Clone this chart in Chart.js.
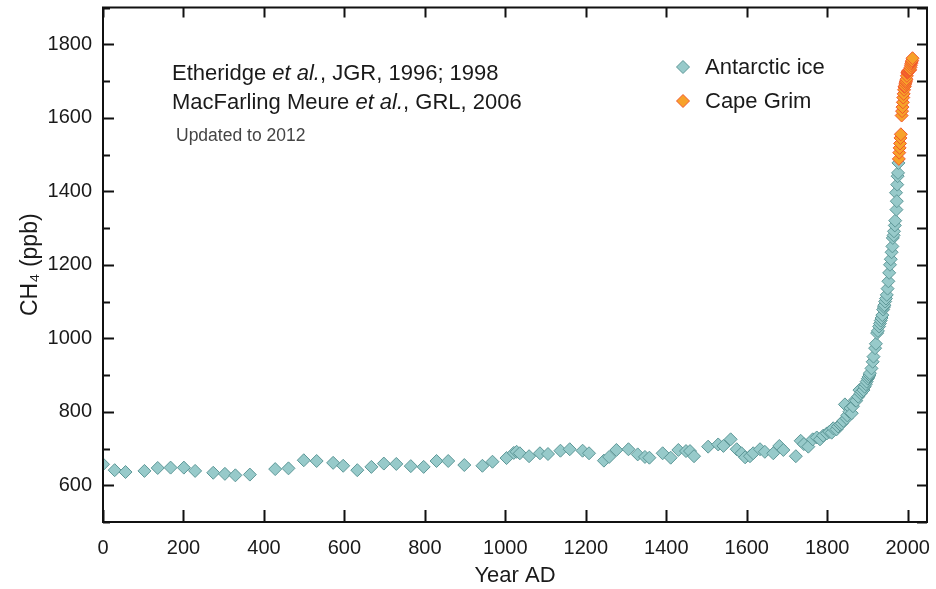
<!DOCTYPE html>
<html>
<head>
<meta charset="utf-8">
<script src="https://cdn.jsdelivr.net/npm/chart.js@4.4.1/dist/chart.umd.min.js"></script>
<style>
  html, body { margin: 0; padding: 0; background: #fff; }
  #wrap { width: 936px; height: 589px; }
</style>
</head>
<body>
<div id="wrap"><canvas id="ch4-chart"></canvas></div>
<script>
'use strict';
// values
const iceYears = [0, 29, 56, 103, 136, 168, 201, 229, 274, 303, 329, 365, 428, 461, 499, 531, 572, 597, 632, 667, 698, 729, 765, 797, 829, 858, 898, 943, 968,
  1003, 1021, 1028, 1036, 1059, 1086, 1106, 1137, 1160, 1192, 1208, 1245, 1258, 1276, 1306, 1329, 1347, 1358, 1391, 1411, 1430, 1449, 1459, 1469,
  1504, 1529, 1542, 1560, 1575, 1587, 1596, 1608, 1616, 1633, 1645, 1666, 1681, 1691, 1722, 1734, 1742, 1753, 1764, 1774, 1782, 1790, 1799, 1805,
  1811, 1815, 1823, 1827, 1832, 1836, 1840, 1844, 1848, 1850, 1855, 1858, 1861, 1864, 1869, 1872, 1877, 1880, 1883, 1886, 1890, 1893, 1896, 1898,
  1901, 1903, 1905, 1906, 1910, 1913, 1915, 1919, 1921, 1924, 1926, 1929, 1931, 1933, 1935, 1937, 1939, 1941, 1942, 1944, 1946, 1948, 1950, 1952,
  1954, 1956, 1958, 1960, 1962, 1963, 1965, 1966, 1968, 1969, 1971, 1972, 1973, 1974, 1975, 1976, 1977];
const iceCH4 = [657, 641, 636, 639, 647, 648, 648, 639, 634, 631, 627, 629, 644, 646, 668, 666, 661, 653, 641, 650, 659, 658, 652, 650, 666, 666, 655, 653, 664,
  674, 688, 691, 687, 679, 687, 685, 694, 698, 694, 687, 667, 677, 696, 698, 684, 677, 675, 687, 675, 696, 693, 693, 679,
  705, 711, 707, 725, 698, 687, 676, 679, 687, 698, 691, 687, 707, 696, 679, 721, 712, 705, 725, 730, 725, 735, 741, 745,
  743, 755, 752, 760, 765, 768, 775, 820, 782, 790, 800, 810, 796, 815, 832, 830, 841, 859, 850, 855, 859, 868, 875, 882,
  890, 895, 900, 905, 918, 936, 950, 973, 985, 1014, 1020, 1032, 1040, 1048, 1055, 1063, 1078, 1085, 1090, 1100, 1108, 1118, 1135, 1155,
  1178, 1200, 1215, 1234, 1250, 1273, 1280, 1291, 1307, 1320, 1396, 1350, 1373, 1418, 1441, 1450, 1477];

const grimYears = [1978, 1979, 1980, 1981, 1982, 1983, 1985, 1986, 1987, 1988, 1989, 1990, 1991, 1992, 1993, 1994, 1995, 1996, 1997, 1998, 1999,
  2000, 2001, 2002, 2003, 2004, 2005, 2006, 2007, 2008, 2009, 2010, 2011, 2012];
const grimCH4 = [1488, 1505, 1518, 1530, 1545, 1555, 1606, 1618, 1629, 1642, 1655, 1665, 1676, 1684, 1686, 1692, 1697, 1700, 1705, 1714, 1722,
  1724, 1726, 1728, 1729, 1729, 1729, 1731, 1737, 1743, 1748, 1752, 1756, 1762];

const xTickVals = [0, 200, 400, 600, 800, 1000, 1200, 1400, 1600, 1800, 2000];
const yTickVals = [600, 800, 1000, 1200, 1400, 1600, 1800];
const yMinorVals = [500, 600, 700, 800, 900, 1000, 1100, 1200, 1300, 1400, 1500, 1600, 1700, 1800, 1900];

const FONT = '"Liberation Sans", Arial, sans-serif';
const INK = '#1a1a1a';
const ICE_FILL = '#97caca', ICE_EDGE = '#5d9797';
const GRIM_FILL = '#f7a22a', GRIM_EDGE = '#f2572c';

function toPoints(xs, ys) {
  return xs.map((v, i) => ({x: v, y: ys[i]}));
}

function diamond(ctx, x, y, r, fill, edge) {
  ctx.beginPath();
  ctx.moveTo(x, y - r); ctx.lineTo(x + r, y); ctx.lineTo(x, y + r); ctx.lineTo(x - r, y);
  ctx.closePath();
  ctx.fillStyle = fill; ctx.fill();
  ctx.strokeStyle = edge; ctx.lineWidth = 1; ctx.stroke();
}

// keep the plot box where the picture has it: no room kept for label overhang
function noOverhang(s) {
  s.paddingTop = 0; s.paddingBottom = 0; s.paddingLeft = 0; s.paddingRight = 0;
}

// frame, inward ticks, notes and legend
const decor = {
  id: 'decor',
  afterDatasetsDraw(chart) {
    const {ctx, chartArea: a, scales: {x, y}} = chart;
    ctx.save();
    ctx.strokeStyle = '#111';
    ctx.lineWidth = 2;
    ctx.strokeRect(a.left, a.top, a.right - a.left, a.bottom - a.top);
    ctx.beginPath();
    yMinorVals.forEach(v => {
      const py = Math.round(y.getPixelForValue(v)) + 0.5;
      const len = (v % 200 === 0) ? 11 : 7;
      ctx.moveTo(a.left, py); ctx.lineTo(a.left + len, py);
      ctx.moveTo(a.right, py); ctx.lineTo(a.right - 10, py);
    });
    xTickVals.forEach(v => {
      const px = Math.round(x.getPixelForValue(v)) + 0.5;
      ctx.moveTo(px, a.bottom); ctx.lineTo(px, a.bottom - 12);
      ctx.moveTo(px, a.top); ctx.lineTo(px, a.top + 10);
    });
    ctx.stroke();

    // reference notes
    ctx.fillStyle = INK;
    ctx.textBaseline = 'alphabetic';
    ctx.textAlign = 'left';
    const line = (parts, x0, y0) => {
      let cx = x0;
      parts.forEach(([txt, it]) => {
        ctx.font = (it ? 'italic ' : '') + '22px ' + FONT;
        ctx.fillText(txt, cx, y0);
        cx += ctx.measureText(txt).width;
      });
    };
    line([['Etheridge ', false], ['et al.', true], [', JGR, 1996; 1998', false]], 172, 80);
    line([['MacFarling Meure ', false], ['et al.', true], [', GRL, 2006', false]], 172, 109);
    ctx.font = '17.5px ' + FONT;
    ctx.fillStyle = '#444';
    ctx.fillText('Updated to 2012', 176, 141);

    // legend
    ctx.textBaseline = 'middle';
    diamond(ctx, 683, 67, 6.5, ICE_FILL, ICE_EDGE);
    diamond(ctx, 683, 101, 6.5, GRIM_FILL, GRIM_EDGE);
    ctx.font = '22px ' + FONT;
    ctx.fillStyle = INK;
    ctx.fillText('Antarctic ice', 705, 68);
    ctx.fillText('Cape Grim', 705, 102);
    ctx.restore();
  }
};

new Chart(document.getElementById('ch4-chart'), {
  type: 'scatter',
  data: {
    datasets: [
      {
        label: 'Cape Grim',
        data: toPoints(grimYears, grimCH4),
        pointStyle: 'rectRot',
        pointRadius: 6.5,
        backgroundColor: GRIM_FILL,
        borderColor: GRIM_EDGE,
        borderWidth: 1,
        order: 0
      },
      {
        label: 'Antarctic ice',
        data: toPoints(iceYears, iceCH4),
        pointStyle: 'rectRot',
        pointRadius: 6.5,
        backgroundColor: ICE_FILL,
        borderColor: ICE_EDGE,
        borderWidth: 1,
        order: 1
      }
    ]
  },
  options: {
    responsive: true,
    maintainAspectRatio: false,
    animation: false,
    layout: {padding: {left: 0, right: 9, top: 7, bottom: 0}},
    plugins: {
      legend: {display: false},
      tooltip: {enabled: false}
    },
    scales: {
      x: {
        type: 'linear',
        min: 0,
        max: 2048,
        grid: {display: false, drawTicks: false},
        border: {display: false},
        afterBuildTicks: s => { s.ticks = xTickVals.map(v => ({value: v})); },
        afterFit: s => { s.height = 67; noOverhang(s); },
        ticks: {
          padding: 14,
          maxRotation: 0,
          color: INK,
          font: {family: FONT, size: 20},
          callback: v => String(v)
        },
        title: {
          display: true,
          text: 'Year AD',
          color: INK,
          font: {family: FONT, size: 22},
          padding: {top: 2, bottom: 0}
        }
      },
      y: {
        min: 500,
        max: 1900,
        grid: {display: false, drawTicks: false},
        border: {display: false},
        afterBuildTicks: s => { s.ticks = yTickVals.map(v => ({value: v})); },
        afterFit: s => { s.width = 103; noOverhang(s); },
        ticks: {
          padding: 11,
          color: INK,
          font: {family: FONT, size: 20},
          callback: v => String(v)
        },
        title: {
          display: true,
          text: 'CH\u2084 (ppb)',
          color: INK,
          font: {family: FONT, size: 23},
          padding: {top: 17, bottom: 0}
        }
      }
    }
  },
  plugins: [decor]
});
</script>
</body>
</html>
